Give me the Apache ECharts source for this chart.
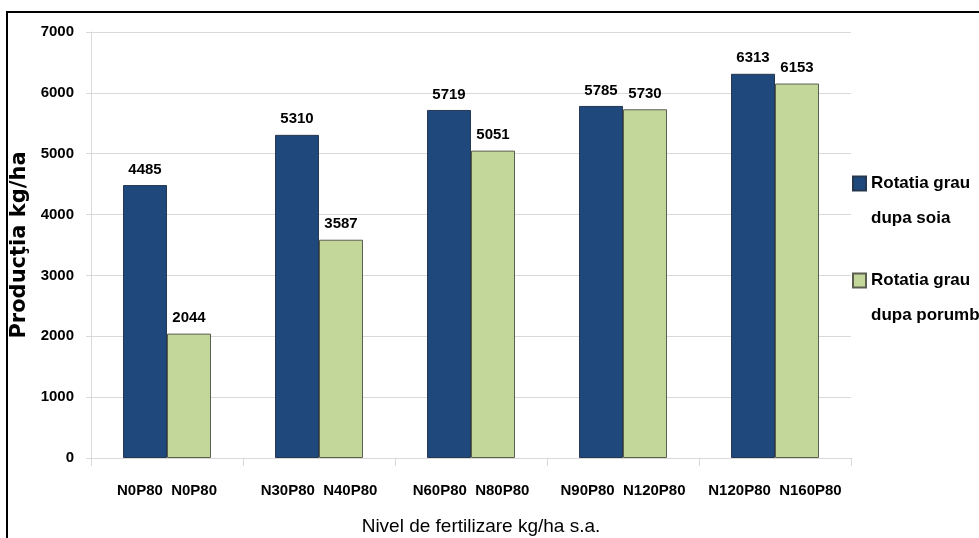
<!DOCTYPE html>
<html>
<head>
<meta charset="utf-8">
<script src="https://cdn.jsdelivr.net/npm/echarts@6/dist/echarts.min.js"></script>
<style>
html,body{margin:0;padding:0;background:#fff;}
#chart{width:979px;height:538px;}
</style>
</head>
<body>
<div id="chart"></div>
<script>
var labelsSoia = ['N0P80', 'N30P80', 'N60P80', 'N90P80', 'N120P80'];
var labelsPorumb = ['N0P80', 'N40P80', 'N80P80', 'N120P80', 'N160P80'];
var valuesSoia = [4485, 5310, 5719, 5785, 6313];
var valuesPorumb = [2044, 3587, 5051, 5730, 6153];
var seriesNames = ['Rotatia grau dupa soia', 'Rotatia grau dupa porumb'];
var yTicks = [0, 1000, 2000, 3000, 4000, 5000, 6000, 7000];

var categories = labelsSoia.map(function (s, i) { return s + '  ' + labelsPorumb[i]; });

var FONT = '"Liberation Sans", Arial, sans-serif';

var chart = echarts.init(document.getElementById('chart'));
chart.setOption({
  animation: false,
  backgroundColor: '#ffffff',
  graphic: [{
    type: 'rect',
    shape: { x: 7, y: 12, width: 1200, height: 800 },
    style: { fill: 'none', stroke: '#000', lineWidth: 2 },
    z: 100
  }],
  grid: { left: 91, right: 128, top: 32, bottom: 80, outerBoundsMode: 'none', containLabel: false },
  legend: {
    orient: 'vertical',
    left: 847,
    top: 126,
    itemWidth: 13,
    itemHeight: 14,
    itemGap: -8,
    icon: 'rect',
    data: seriesNames,
    formatter: function (name) {
      return '\u00a0\n' + name.replace('grau ', 'grau\n');
    },
    textStyle: {
      fontFamily: FONT,
      fontWeight: 'bold',
      fontSize: 17,
      color: '#000',
      lineHeight: 35
    }
  },
  xAxis: {
    type: 'category',
    data: categories,
    name: 'Nivel de fertilizare kg/ha s.a.',
    nameLocation: 'middle',
    nameGap: 59,
    nameTextStyle: { fontFamily: FONT, fontSize: 19, color: '#000', padding: [0, 0, 0, 20] },
    axisLine: { show: true, lineStyle: { color: '#d9d9d9', width: 1 } },
    axisTick: { show: true, length: 8, lineStyle: { color: '#d9d9d9' } },
    axisLabel: {
      interval: 0,
      margin: 25,
      fontFamily: FONT,
      fontWeight: 'bold',
      fontSize: 15,
      color: '#000'
    }
  },
  yAxis: {
    type: 'value',
    min: 0,
    max: 7000,
    interval: 1000,
    name: 'Producţia kg/ha',
    nameLocation: 'middle',
    nameGap: 55,
    nameTextStyle: { fontFamily: '"DejaVu Sans", sans-serif', fontWeight: 'bold', fontSize: 21, color: '#000' },
    axisLine: { show: true, lineStyle: { color: '#d9d9d9', width: 1 } },
    axisTick: { show: true, length: 5, lineStyle: { color: '#d9d9d9' } },
    splitLine: { show: true, lineStyle: { color: '#d9d9d9', width: 1 } },
    axisLabel: {
      margin: 17,
      fontFamily: FONT,
      fontWeight: 'bold',
      fontSize: 15,
      color: '#000',
      formatter: function (v) { return String(v); },
      customValues: yTicks
    }
  },
  series: [{
    name: seriesNames[0],
    type: 'bar',
    data: valuesSoia,
    barWidth: 44,
    barGap: '0%',
    itemStyle: { color: '#1f497d', borderColor: '#26384f', borderWidth: 1 },
    label: {
      show: true, position: 'top', distance: 8,
      fontFamily: FONT, fontWeight: 'bold', fontSize: 15, color: '#000'
    }
  }, {
    name: seriesNames[1],
    type: 'bar',
    data: valuesPorumb,
    barWidth: 44,
    barGap: '0%',
    itemStyle: { color: '#c4d79b', borderColor: '#5a5f50', borderWidth: 1 },
    label: {
      show: true, position: 'top', distance: 8,
      fontFamily: FONT, fontWeight: 'bold', fontSize: 15, color: '#000'
    }
  }]
});
</script>
</body>
</html>
